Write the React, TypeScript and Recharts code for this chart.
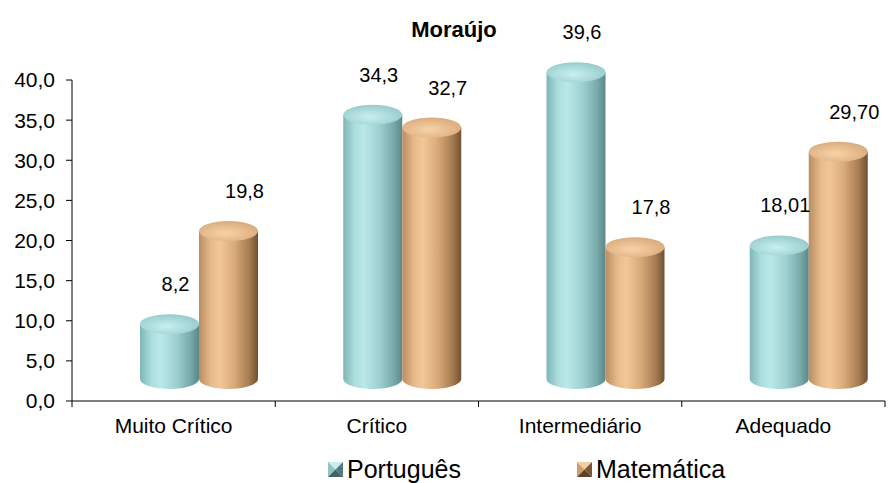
import { BarChart, Bar, XAxis, YAxis, LabelList } from 'recharts'

const categories = ['Muito Crítico', 'Crítico', 'Intermediário', 'Adequado']
const portugues = [8.2, 34.3, 39.6, 18.01]
const matematica = [19.8, 32.7, 17.8, 29.7]
// casas decimais como aparecem nos rótulos originais
const portDecimals = [1, 1, 1, 2]
const matDecimals = [1, 1, 1, 2]
const yTicks = [0, 5, 10, 15, 20, 25, 30, 35, 40]
const seriesNames = ['Português', 'Matemática']

const data = categories.map((cat, i) => ({
  cat,
  port: portugues[i],
  mat: matematica[i],
}))

const W = 894
const H = 483
const MARGIN = { top: 80, right: 9, left: 8, bottom: 52 }
const Y_AXIS_W = 64
const BAND = (W - MARGIN.left - Y_AXIS_W - MARGIN.right) / categories.length
const DEPTH_DX = 25 // deslocamento do efeito 3D
const RY = 10
const FONT = '"Liberation Sans", Arial, sans-serif'

const fmt = (v: number, d: number) => v.toFixed(d).replace('.', ',')

function Cylinder(props: any) {
  const { x, y, width, height, series } = props
  const left = x + DEPTH_DX
  const rx = width / 2
  const top = y - 11
  const bottom = y + height - 22
  const d = `M${left},${top} L${left},${bottom} A${rx},${RY} 0 0 0 ${left + width},${bottom} L${left + width},${top} Z`
  return (
    <g>
      <path d={d} fill={`url(#${series}-body)`} />
      <ellipse cx={left + rx} cy={top} rx={rx} ry={RY} fill={`url(#${series}-top)`} />
    </g>
  )
}

function ValueLabel(props: any) {
  const { x, y, width, value, index, dx, decimals } = props
  return (
    <text
      x={x + width / 2 + DEPTH_DX + dx}
      y={y - 44}
      textAnchor="middle"
      fontSize={20}
      fontFamily={FONT}
      fill="#000"
    >
      {fmt(value, decimals[index])}
    </text>
  )
}

function CategoryTick(props: any) {
  const { x, y, payload, index } = props
  return (
    <g>
      <line x1={x - BAND / 2} y1={y} x2={x - BAND / 2} y2={y + 6} stroke="#000" />
      {index === categories.length - 1 && (
        <line x1={x + BAND / 2} y1={y} x2={x + BAND / 2} y2={y + 6} stroke="#000" />
      )}
      <text x={x} y={y + 32} textAnchor="middle" fontSize={21} fontFamily={FONT} fill="#000">
        {payload.value}
      </text>
    </g>
  )
}

function LegendIcon({ light, mid, dark, darkest }: { light: string; mid: string; dark: string; darkest: string }) {
  return (
    <svg width={15} height={15} style={{ marginRight: 4 }}>
      <polygon points="0,0 15,0 7.5,7.5" fill={light} />
      <polygon points="0,0 0,15 7.5,7.5" fill={mid} />
      <polygon points="15,0 15,15 7.5,7.5" fill={dark} />
      <polygon points="0,15 15,15 7.5,7.5" fill={darkest} />
    </svg>
  )
}

export default function App() {
  return (
    <div style={{ position: 'absolute', left: 0, top: 0, width: W, height: H, background: '#fff', fontFamily: FONT }}>
      <div
        style={{
          position: 'absolute',
          left: 354,
          top: 19,
          width: 200,
          textAlign: 'center',
          fontSize: 22,
          lineHeight: '22px',
          fontWeight: 'bold',
        }}
      >
        Moraújo
      </div>
      <BarChart width={W} height={H} data={data} margin={MARGIN} barSize={59} barGap={0}>
        <defs>
          <linearGradient id="port-body" x1="0" y1="0" x2="1" y2="0">
            <stop offset="0%" stopColor="#80b5b6" />
            <stop offset="20%" stopColor="#addfdf" />
            <stop offset="35%" stopColor="#bae8e8" />
            <stop offset="60%" stopColor="#a0d2d3" />
            <stop offset="85%" stopColor="#7aabac" />
            <stop offset="100%" stopColor="#5c8789" />
          </linearGradient>
          <radialGradient id="port-top" cx="45%" cy="60%" r="60%">
            <stop offset="0%" stopColor="#c8f0f0" />
            <stop offset="100%" stopColor="#98cbcc" />
          </radialGradient>
          <linearGradient id="mat-body" x1="0" y1="0" x2="1" y2="0">
            <stop offset="0%" stopColor="#b98d62" />
            <stop offset="20%" stopColor="#e8ba8a" />
            <stop offset="35%" stopColor="#f2c899" />
            <stop offset="60%" stopColor="#d9aa79" />
            <stop offset="85%" stopColor="#a67c52" />
            <stop offset="100%" stopColor="#6f5033" />
          </linearGradient>
          <radialGradient id="mat-top" cx="45%" cy="60%" r="60%">
            <stop offset="0%" stopColor="#f8d3a8" />
            <stop offset="100%" stopColor="#daab7c" />
          </radialGradient>
        </defs>
        <XAxis
          dataKey="cat"
          interval={0}
          height={30}
          tickSize={0}
          tickMargin={0}
          tickLine={false}
          axisLine={{ stroke: '#000' }}
          tick={<CategoryTick />}
        />
        <YAxis
          width={Y_AXIS_W}
          domain={[0, 40]}
          ticks={yTicks}
          interval={0}
          tickSize={6}
          tickMargin={11}
          axisLine={{ stroke: '#000' }}
          tickLine={{ stroke: '#000' }}
          tick={{ fill: '#000', fontSize: 21, fontFamily: FONT }}
          tickFormatter={(v: number) => fmt(v, 1)}
        />
        <Bar dataKey="port" name={seriesNames[0]} isAnimationActive={false} shape={(p: any) => <Cylinder {...p} series="port" />}>
          <LabelList dataKey="port" content={(p: any) => <ValueLabel {...p} dx={6} decimals={portDecimals} />} />
        </Bar>
        <Bar dataKey="mat" name={seriesNames[1]} isAnimationActive={false} shape={(p: any) => <Cylinder {...p} series="mat" />}>
          <LabelList dataKey="mat" content={(p: any) => <ValueLabel {...p} dx={16} decimals={matDecimals} />} />
        </Bar>
      </BarChart>
      <div
        style={{
          position: 'absolute',
          left: 328,
          top: 457,
          display: 'flex',
          gap: 116,
          fontSize: 25,
          lineHeight: '25px',
        }}
      >
        <div style={{ display: 'flex', alignItems: 'center' }}>
          <LegendIcon light="#c8eeee" mid="#8fc3c4" dark="#4e7a7c" darkest="#3e6466" />
          {seriesNames[0]}
        </div>
        <div style={{ display: 'flex', alignItems: 'center' }}>
          <LegendIcon light="#f3cfa5" mid="#caa070" dark="#7a5634" darkest="#5e4126" />
          {seriesNames[1]}
        </div>
      </div>
    </div>
  )
}
